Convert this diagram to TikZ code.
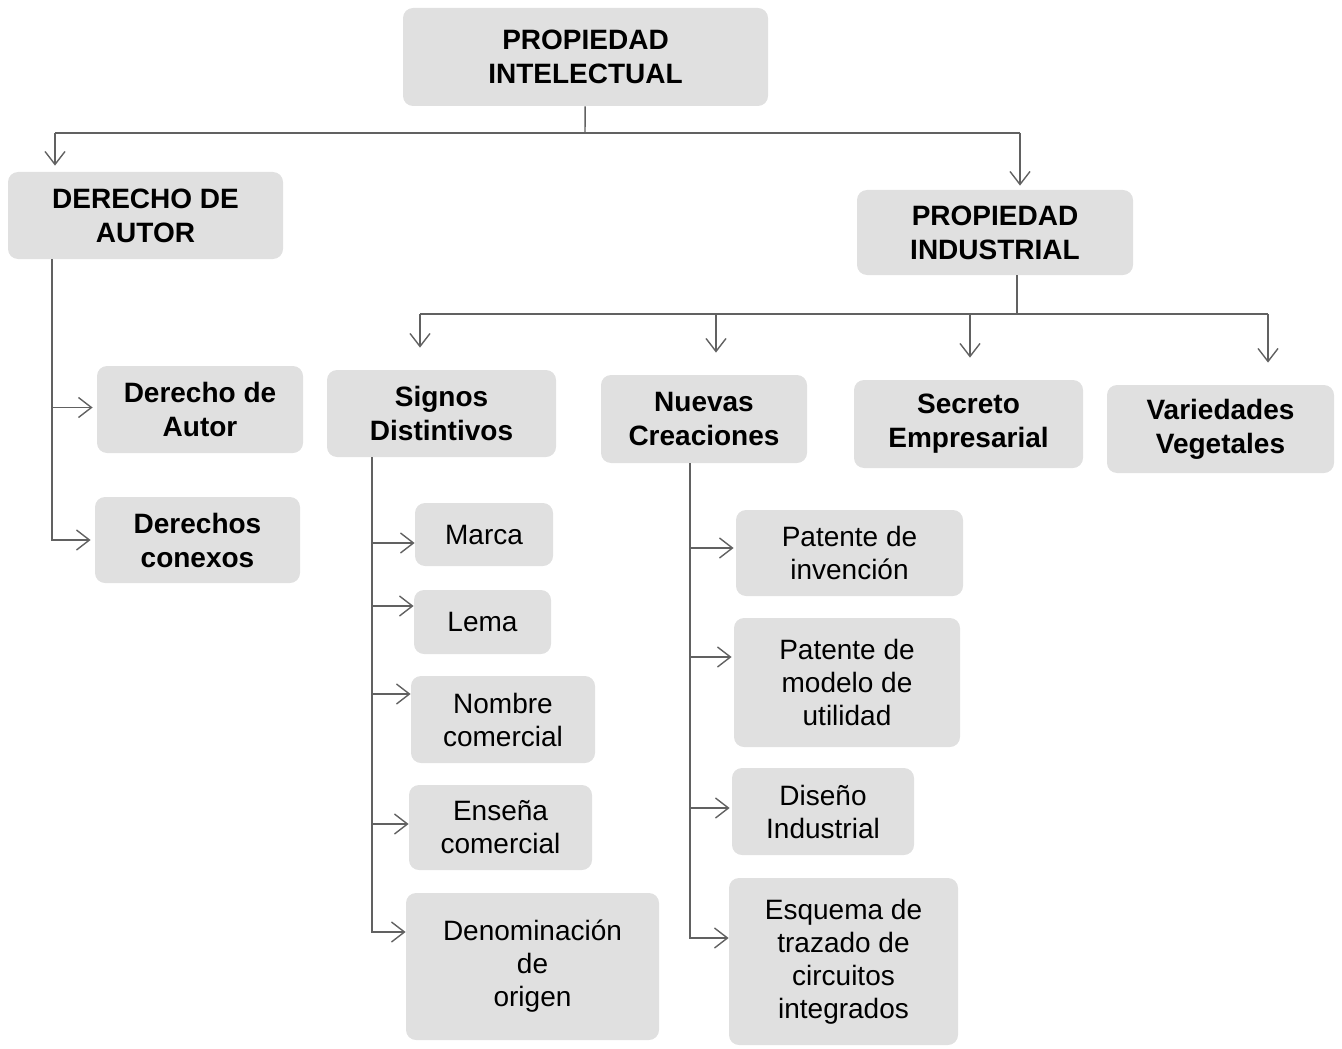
\documentclass[tikz,border=0pt]{standalone}
\usepackage{fontspec}
\setmainfont{Liberation Sans}
\usetikzlibrary{arrows.meta}

\tikzset{
    box/.style={fill=black!12, rounded corners=5pt, align=center, inner sep=0pt,
        font=\fontsize{14}{16.5}\selectfont},
    head/.style={box, font=\fontsize{14}{17}\selectfont\bfseries},
    link/.style={draw=black!62, line width=0.7pt},
    arr/.style={link, -{Straight Barb[length=6.5pt, width=10pt]}},
}

\begin{document}
\begin{tikzpicture}[x=0.5pt, y=-0.5pt]
        \useasboundingbox (0,0) rectangle (1342,1048);

        \node[head, minimum width=182.5pt, minimum height=49pt] (intel) at (585.5,57) {PROPIEDAD\\INTELECTUAL};
        \node[head, minimum width=137.5pt, minimum height=43.5pt] (autor) at (145.5,215.5) {DERECHO DE\\AUTOR};
        \node[head, minimum width=138pt, minimum height=42.5pt] (indus) at (995,232.5) {PROPIEDAD\\INDUSTRIAL};

        \node[head, minimum width=103pt, minimum height=43.5pt] (dautor) at (200,409.5) {Derecho de\\Autor};
        \node[head, minimum width=102.5pt, minimum height=43pt] (conexos) at (197.5,540) {Derechos\\conexos};

        \node[head, minimum width=114.5pt, minimum height=43.5pt] (signos) at (441.5,413.5) {Signos\\Distintivos};
        \node[head, minimum width=103pt, minimum height=44pt] (nuevas) at (704,419) {Nuevas\\Creaciones};
        \node[head, minimum width=114.5pt, minimum height=44pt] (secreto) at (968.5,424) {Secreto\\Empresarial};
        \node[head, minimum width=113.5pt, minimum height=44pt] (varied) at (1220.5,429) {Variedades\\Vegetales};

        \node[box, minimum width=69pt, minimum height=31.5pt] (marca) at (484,534.5) {Marca};
        \node[box, minimum width=68.5pt, minimum height=32pt] (lema) at (482.5,622) {Lema};
        \node[box, minimum width=92pt, minimum height=43.5pt] (nombre) at (503,719.5) {Nombre\\comercial};
        \node[box, minimum width=91.5pt, minimum height=42.5pt] (ensena) at (500.5,827.5) {Enseña\\comercial};
        \node[box, minimum width=126.5pt, minimum height=73.5pt] (denom) at (532.5,966.5) {Denominación\\de\\origen};

        \node[box, minimum width=113.5pt, minimum height=43pt] (invenc) at (849.5,553) {Patente de\\invención};
        \node[box, minimum width=113pt, minimum height=64.5pt] (modelo) at (847,682.5) {Patente de\\modelo de\\utilidad};
        \node[box, minimum width=91pt, minimum height=43.5pt] (diseno) at (823,811.5) {Diseño\\Industrial};
        \node[box, minimum width=114.5pt, minimum height=83.5pt] (esquema) at (843.5,961.5) {Esquema de\\trazado de\\circuitos\\integrados};

        \coordinate (intelj) at (585,133);
        \coordinate (autorj) at (55,133);
        \coordinate (indusj) at (1020,133);
        \draw[link] (intel) -- (intelj);
        \draw[link] (autorj) -- (indusj);
        \draw[arr, shorten >=3pt] (autorj) -- (autorj |- autor.north);
        \draw[arr, shorten >=2pt] (indusj) -- (indusj |- indus.north);

        \coordinate (autorx) at (52,0);
        \draw[arr, shorten >=2pt] (autorx |- autor.south) |- ([yshift=1pt]dautor.west);
        \draw[arr, shorten >=2pt] (autorx |- autor.south) |- (conexos.west);

        \coordinate (indusj) at (1017,314);
        \draw[link] (indus.south -| indusj) -- (indusj);
        \draw[link] ([xshift=-10.75pt]indusj -| signos.north) -- ([xshift=23.75pt]indusj -| varied.north);
        \draw[arr, shorten >=11pt] ([xshift=-10.75pt]indusj -| signos.north) -- ([xshift=-10.75pt]signos.north);
        \draw[arr, shorten >=11pt] ([xshift=6pt]indusj -| nuevas.north) -- ([xshift=6pt]nuevas.north);
        \draw[arr, shorten >=11pt] ([xshift=0.75pt]indusj -| secreto.north) -- ([xshift=0.75pt]secreto.north);
        \draw[arr, shorten >=11pt] ([xshift=23.75pt]indusj -| varied.north) -- ([xshift=23.75pt]varied.north);

        \coordinate (signosx) at (372,0);
        \draw[arr] (signosx |- signos.south) |- ([yshift=-4.25pt]marca.west);
        \draw[arr] (signosx |- signos.south) |- ([yshift=8pt]lema.west);
        \draw[arr] (signosx |- signos.south) |- ([yshift=12.75pt]nombre.west);
        \draw[arr] (signosx |- signos.south) |- ([yshift=1.75pt]ensena.west);
        \draw[arr] (signosx |- signos.south) |- ([yshift=17.25pt]denom.west);

        \coordinate (nuevasx) at (690,0);
        \draw[arr, shorten >=1pt] (nuevasx |- nuevas.south) |- ([yshift=2.5pt]invenc.west);
        \draw[arr, shorten >=1pt] (nuevasx |- nuevas.south) |- ([yshift=12.75pt]modelo.west);
        \draw[arr, shorten >=1pt] (nuevasx |- nuevas.south) |- ([yshift=1.75pt]diseno.west);
        \draw[arr] (nuevasx |- nuevas.south) |- ([yshift=11.75pt]esquema.west);
\end{tikzpicture}
\end{document}
